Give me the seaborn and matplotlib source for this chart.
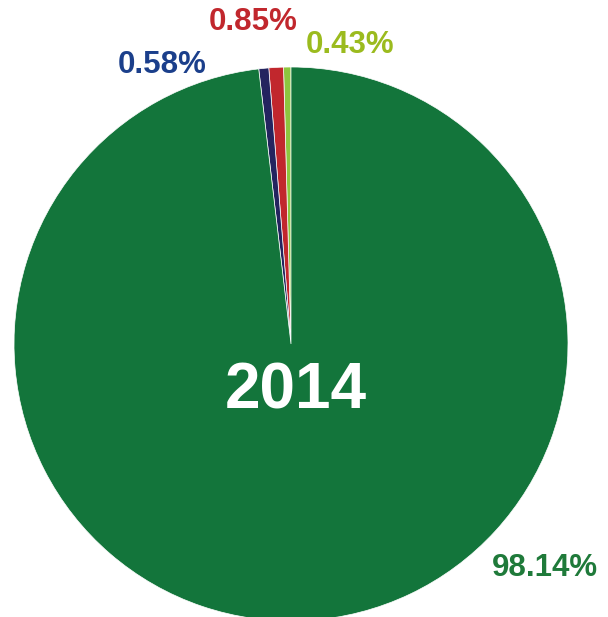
import matplotlib
matplotlib.use("Agg")
import matplotlib.pyplot as plt
import seaborn as sns

sns.set_theme(style="white")
plt.rcParams['font.family'] = ['Liberation Sans', 'DejaVu Sans']

categories = ["C", "B", "A", "Main"]
values = [0.43, 0.85, 0.58, 98.14]
labels = ["0.43%", "0.85%", "0.58%", "98.14%"]
slice_colors = ["#8dc63f", "#c1272d", "#24245f", "#13753b"]
label_colors = ["#9bbb1e", "#c1272d", "#1b3f8b", "#1f7a3a"]
title = "2014"

fig = plt.figure(figsize=(6.08, 6.17), dpi=100)
ax = fig.add_axes([0, 0, 1, 1])
ax.pie(values, colors=slice_colors, startangle=90, counterclock=True,
       radius=1.0, center=(0, 0),
       wedgeprops=dict(edgecolor="white", linewidth=0.5))
ax.set_xlim(-1.0505, 1.1444)
ax.set_ylim(-0.9856, 1.2419)
ax.set_aspect("equal")
ax.axis("off")

label_pos = [(0.213, 1.079), (-0.137, 1.162), (-0.466, 1.007), (0.917, -0.809)]
for lab, col, (x, y) in zip(labels, label_colors, label_pos):
    ax.text(x, y, lab, color=col, fontsize=22.5, fontweight="bold",
            ha="center", va="center")
ax.text(0.018, -0.173, title, color="white", fontsize=46, fontweight="bold",
        ha="center", va="center")

fig.savefig("out.png", dpi=100)
